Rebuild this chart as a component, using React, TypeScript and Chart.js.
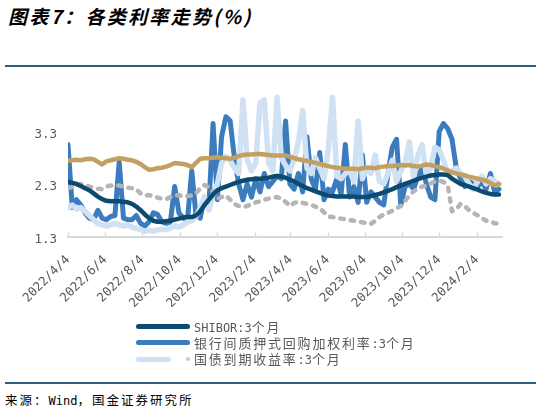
import React, { useEffect, useRef } from 'react';
import { Chart, registerables } from 'chart.js';

Chart.register(...registerables);

// weekly observation dates
const dates = [
  '2022-04-04','2022-04-11','2022-04-18','2022-04-25','2022-05-02','2022-05-09','2022-05-16','2022-05-23','2022-05-30',
  '2022-06-06','2022-06-13','2022-06-20','2022-06-27','2022-07-04','2022-07-11','2022-07-18','2022-07-25',
  '2022-08-01','2022-08-08','2022-08-15','2022-08-22','2022-08-29','2022-09-05','2022-09-12','2022-09-19','2022-09-26',
  '2022-10-03','2022-10-10','2022-10-17','2022-10-24','2022-10-31','2022-11-07','2022-11-14','2022-11-21','2022-11-28',
  '2022-12-05','2022-12-12','2022-12-19','2022-12-26',
  '2023-01-02','2023-01-09','2023-01-16','2023-01-23','2023-01-30','2023-02-06','2023-02-13','2023-02-20','2023-02-27',
  '2023-03-06','2023-03-13','2023-03-20','2023-03-27','2023-04-03','2023-04-10','2023-04-17','2023-04-24',
  '2023-05-01','2023-05-08','2023-05-15','2023-05-22','2023-05-29','2023-06-05','2023-06-12','2023-06-19','2023-06-26',
  '2023-07-03','2023-07-10','2023-07-17','2023-07-24','2023-07-31','2023-08-07','2023-08-14','2023-08-21','2023-08-28',
  '2023-09-04','2023-09-11','2023-09-18','2023-09-25','2023-10-02','2023-10-09','2023-10-16','2023-10-23','2023-10-30',
  '2023-11-06','2023-11-13','2023-11-20','2023-11-27','2023-12-04','2023-12-11','2023-12-18','2023-12-25',
  '2024-01-01','2024-01-08','2024-01-15','2024-01-22','2024-01-29','2024-02-05','2024-02-12','2024-02-19','2024-02-26',
  '2024-03-04','2024-03-11',
];

const tickLabels = [
  '2022/4/4','2022/6/4','2022/8/4','2022/10/4','2022/12/4','2023/2/4',
  '2023/4/4','2023/6/4','2023/8/4','2023/10/4','2023/12/4','2024/2/4',
];
const yTickValues = [1.3, 2.3, 3.3];

const shibor3m = [
  2.34, 2.32, 2.30, 2.26, 2.22, 2.18, 2.12, 2.06, 2.01, 1.98,
  1.97, 1.97, 1.97, 1.96, 1.95, 1.92, 1.87, 1.80, 1.72, 1.65,
  1.60, 1.58, 1.58, 1.59, 1.60, 1.62, 1.64, 1.66, 1.67, 1.67,
  1.70, 1.78, 1.90, 2.00, 2.10, 2.18, 2.22, 2.25, 2.28, 2.31,
  2.34, 2.36, 2.38, 2.39, 2.40, 2.40, 2.41, 2.42, 2.44, 2.45,
  2.44, 2.42, 2.38, 2.35, 2.30, 2.26, 2.22, 2.19, 2.16, 2.13,
  2.10, 2.08, 2.07, 2.06, 2.06, 2.06, 2.06, 2.06, 2.05, 2.05,
  2.05, 2.07, 2.09, 2.11, 2.14, 2.17, 2.20, 2.24, 2.27, 2.30,
  2.33, 2.36, 2.39, 2.42, 2.44, 2.46, 2.47, 2.48, 2.48, 2.47,
  2.40, 2.35, 2.30, 2.28, 2.25, 2.22, 2.19, 2.16, 2.13, 2.11, 2.10, 2.10,
];

const repo3m = [
  3.05, 1.85, 2.00, 1.90, 1.75, 1.65, 1.62, 1.80, 1.65, 1.62,
  1.68, 1.70, 2.72, 1.65, 1.62, 1.62, 1.70, 1.55, 1.50, 1.58,
  1.75, 1.72, 1.58, 1.55, 1.58, 2.25, 1.75, 1.65, 1.62, 2.55,
  1.70, 1.65, 2.05, 1.85, 3.45, 2.00, 3.20, 3.58, 3.50, 2.80,
  2.30, 2.00, 2.30, 2.05, 2.40, 2.15, 2.50, 2.25, 2.35, 2.45,
  2.40, 3.50, 2.30, 2.20, 2.50, 2.15, 3.20, 2.40, 2.20, 2.90,
  2.00, 2.20, 2.15, 2.40, 2.10, 3.05, 2.05, 2.25, 1.95, 2.85,
  1.95, 2.15, 2.05, 1.95, 1.90, 2.50, 3.00, 3.15, 1.90, 2.25,
  2.30, 2.20, 2.45, 2.60, 2.30, 2.05, 2.00, 3.30, 3.45, 3.35,
  3.15, 2.60, 2.40, 2.25, 2.35, 2.30, 2.25, 2.35, 2.20, 2.50, 2.15, 2.20,
];

const lightSeries = [
  1.85, 1.90, 1.82, 1.85, 1.78, 1.70, 1.62, 1.55, 1.52, 1.50,
  1.52, 1.55, 1.52, 1.50, 1.52, 1.48, 1.45, 1.43, 1.40, 1.42,
  1.40, 1.42, 1.44, 1.43, 1.46, 1.50, 1.48, 1.52, 1.58, 1.60,
  1.68, 1.85, 2.05, 1.80, 2.10, 2.30, 2.70, 2.82, 2.75, 2.60,
  2.50, 3.90, 2.75, 2.55, 2.70, 3.85, 3.90, 2.70, 2.55, 3.95,
  2.80, 2.65, 2.55, 2.75, 3.10, 3.70, 2.60, 2.50, 2.80, 2.60,
  2.40, 2.95, 3.95, 2.45, 2.40, 2.50, 2.55, 2.35, 3.50, 2.40,
  2.60, 2.50, 2.85, 2.35, 2.30, 2.50, 2.75, 2.35, 2.55, 2.70,
  3.10, 2.40, 2.85, 3.05, 2.45, 2.60, 3.00, 2.95, 2.75, 2.50,
  2.55, 2.60, 2.50, 2.45, 2.30, 2.20, 2.35, 2.45, 2.30, 2.40, 2.35, 2.30,
];

const goldSeries = [
  2.74, 2.75, 2.76, 2.75, 2.77, 2.78, 2.77, 2.72, 2.67, 2.73,
  2.75, 2.77, 2.79, 2.78, 2.76, 2.75, 2.72, 2.68, 2.62, 2.57,
  2.58, 2.60, 2.61, 2.63, 2.66, 2.70, 2.69, 2.68, 2.66, 2.62,
  2.70, 2.78, 2.79, 2.79, 2.80, 2.81, 2.80, 2.79, 2.78, 2.80,
  2.83, 2.85, 2.86, 2.86, 2.87, 2.87, 2.86, 2.85, 2.84, 2.84,
  2.84, 2.84, 2.82, 2.79, 2.77, 2.75, 2.74, 2.72, 2.70, 2.68,
  2.66, 2.64, 2.62, 2.61, 2.60, 2.59, 2.59, 2.59, 2.58, 2.60,
  2.61, 2.61, 2.60, 2.62, 2.63, 2.64, 2.64, 2.65, 2.66, 2.65,
  2.66, 2.64, 2.63, 2.65, 2.67, 2.66, 2.64, 2.62, 2.59, 2.56,
  2.52, 2.50, 2.48, 2.46, 2.44, 2.42, 2.40, 2.38, 2.36, 2.32, 2.27, 2.30,
];

const graySeries = [
  2.22, 2.24, 2.28, 2.30, 2.28, 2.25, 2.23, 2.21, 2.20, 2.25,
  2.27, 2.28, 2.27, 2.25, 2.23, 2.22, 2.20, 2.12, 2.08, 2.09,
  2.06, 2.04, 2.02, 2.01, 2.05, 2.08, 2.09, 2.06, 2.07, 2.08,
  2.12, 2.22, 2.28, 2.24, 2.15, 2.02, 2.05, 2.08, 2.00, 1.92,
  1.88, 1.86, 1.88, 1.92, 1.95, 1.97, 2.00, 2.02, 2.04, 2.05,
  2.02, 1.96, 1.88, 1.94, 1.96, 1.94, 1.92, 1.90, 1.87, 1.84,
  1.76, 1.68, 1.67, 1.66, 1.64, 1.63, 1.61, 1.60, 1.59, 1.57,
  1.55, 1.54, 1.60, 1.67, 1.72, 1.75, 1.79, 1.84, 1.88, 1.98,
  2.08, 2.16, 2.21, 2.25, 2.27, 2.31, 2.35, 2.36, 2.34, 2.27,
  1.78, 1.82, 1.92, 1.88, 1.80, 1.75, 1.70, 1.65, 1.60, 1.59, 1.55, 1.54,
];

const ORIGIN = Date.UTC(2022, 3, 4);
const toDay = (s: string) => {
  const [y, m, d] = s.split(/[-/]/).map(Number);
  return Math.round((Date.UTC(y, m - 1, d) - ORIGIN) / 86400000);
};
const xDays = dates.map(toDay);
const tickDays = tickLabels.map(toDay);
const pts = (vals: number[]) => vals.map((v, i) => ({ x: xDays[i], y: v }));

const AXIS_FONT = { family: '"DejaVu Sans Mono", "Noto Sans CJK SC", monospace', size: 12.5 };

const innerTicks = {
  id: 'innerTicks',
  afterDatasetsDraw(chart: any) {
    const { ctx, chartArea, scales } = chart;
    const x = scales.x;
    ctx.save();
    ctx.strokeStyle = '#d9d9d9';
    ctx.lineWidth = 1.5;
    x.ticks.forEach((t: any) => {
      const px = Math.round(x.getPixelForValue(t.value)) + 0.5;
      ctx.beginPath();
      ctx.moveTo(px, chartArea.bottom);
      ctx.lineTo(px, chartArea.bottom - 4);
      ctx.stroke();
    });
    ctx.restore();
  },
};

function Txt({ text, sp, latinSize }: { text: string; sp: string; latinSize: number }) {
  const parts = text.match(/[\x00-\x7f]+|[^\x00-\x7f]+/g) || [];
  return (
    <>
      {parts.map((p, i) =>
        /^[\x00-\x7f]/.test(p) ? (
          <span key={i} style={{ fontFamily: '"DejaVu Sans Mono", monospace', fontSize: latinSize }}>{p}</span>
        ) : (
          <span key={i} style={{ letterSpacing: sp }}>{p}</span>
        )
      )}
    </>
  );
}

export default function App() {
  const ref = useRef<HTMLCanvasElement | null>(null);

  useEffect(() => {
    if (!ref.current) return;
    const chart = new Chart(ref.current, {
      type: 'line',
      data: {
        datasets: [
          { label: 'SHIBOR:3个月', data: pts(shibor3m), borderColor: '#0d4a70', borderWidth: 4.5, order: 1 },
          { label: '银行间质押式回购加权利率:3个月', data: pts(repo3m), borderColor: '#3b7cbf', borderWidth: 5, order: 4 },
          { label: '国债到期收益率:3个月', data: pts(lightSeries), borderColor: '#cfe1f2', borderWidth: 5.5, order: 3 },
          { label: '利率4', data: pts(goldSeries), borderColor: '#c3a062', borderWidth: 4.5, order: 0 },
          { label: '利率5', data: pts(graySeries), borderColor: '#b5b5b5', borderWidth: 4.5, borderDash: [3.5, 7], order: 2 },
        ] as any,
      },
      options: {
        animation: false,
        responsive: false,
        maintainAspectRatio: false,
        elements: {
          point: { radius: 0 },
          line: { tension: 0, borderCapStyle: 'round', borderJoinStyle: 'round', fill: false },
        },
        layout: { padding: { top: 22, right: 39, left: 0, bottom: 0 } },
        plugins: { legend: { display: false }, tooltip: { enabled: false } },
        scales: {
          x: {
            type: 'linear',
            min: 0,
            max: 712,
            grid: { display: false, drawTicks: true, tickLength: 8 },
            border: { display: true, color: '#d9d9d9', width: 2 },
            afterBuildTicks: (a: any) => { a.ticks = tickDays.map((v) => ({ value: v })); },
            afterFit: (a: any) => { a.height = 83.5; },
            ticks: {
              autoSkip: false,
              minRotation: 45,
              maxRotation: 45,
              padding: 8,
              color: '#595959',
              font: AXIS_FONT,
              callback: (v: any) => {
                const k = tickDays.indexOf(Number(v));
                return k >= 0 ? tickLabels[k] : '';
              },
            },
          },
          y: {
            min: 1.3,
            max: 4.05,
            grid: { display: false, drawTicks: false },
            border: { display: false },
            afterBuildTicks: (a: any) => { a.ticks = yTickValues.map((v) => ({ value: v })); },
            afterFit: (a: any) => { a.width = 68; },
            ticks: {
              padding: 11,
              labelOffset: 3,
              color: '#595959',
              font: AXIS_FONT,
              callback: (v: any) => Number(v).toFixed(1),
            },
          },
        },
      } as any,
      plugins: [innerTicks],
    });
    return () => chart.destroy();
  }, []);

  const legendText: React.CSSProperties = {
    position: 'absolute',
    left: 194,
    height: 18,
    lineHeight: '18px',
    fontSize: 13,
    color: '#595959',
    whiteSpace: 'nowrap',
    fontFamily: '"Noto Sans CJK SC", sans-serif',
  };
  const swatch = (top: number, width: number, color: string): React.CSSProperties => ({
    position: 'absolute', left: 136, top: top - 2.5, width, height: 5, borderRadius: 3, background: color,
  });

  return (
    <div style={{ position: 'fixed', left: 0, top: 0, width: 541, height: 414, background: '#fff', overflow: 'hidden', fontFamily: '"Noto Sans CJK SC", sans-serif' }}>
      <div style={{ position: 'absolute', left: 8, top: 3, lineHeight: '26px', fontSize: 19, fontWeight: 700, fontStyle: 'italic', letterSpacing: '2.3px', color: '#000', whiteSpace: 'nowrap' }}>
        图表7：各类利率走势(%)
      </div>
      <div style={{ position: 'absolute', left: 5, top: 65, width: 531, height: 2, background: '#31607f' }} />
      <canvas ref={ref} width={541} height={250} style={{ position: 'absolute', left: 0, top: 70, width: 541, height: 250, display: 'block' }} />

      <div style={swatch(326.5, 54, '#0d4a70')} />
      <div style={{ ...legendText, top: 317.5 }}><Txt text="SHIBOR:3个月" sp="1.8px" latinSize={12} /></div>
      <div style={swatch(342.5, 54, '#3b7cbf')} />
      <div style={{ ...legendText, top: 333.5 }}><Txt text="银行间质押式回购加权利率:3个月" sp="1.8px" latinSize={12} /></div>
      <div style={swatch(359, 35, '#cfe1f2')} />
      <div style={{ position: 'absolute', left: 185.5, top: 356.8, width: 4.5, height: 4.5, borderRadius: '50%', background: '#c8c8c8' }} />
      <div style={{ ...legendText, top: 350 }}><Txt text="国债到期收益率:3个月" sp="1.8px" latinSize={12} /></div>

      <div style={{ position: 'absolute', left: 5, top: 382, width: 531, height: 1.5, background: '#31607f' }} />
      <div style={{ position: 'absolute', left: 5, top: 391, lineHeight: '18px', fontSize: 12.5, color: '#000', whiteSpace: 'nowrap' }}>
        <Txt text="来源：Wind，国金证券研究所" sp="2px" latinSize={12} />
      </div>
    </div>
  );
}
